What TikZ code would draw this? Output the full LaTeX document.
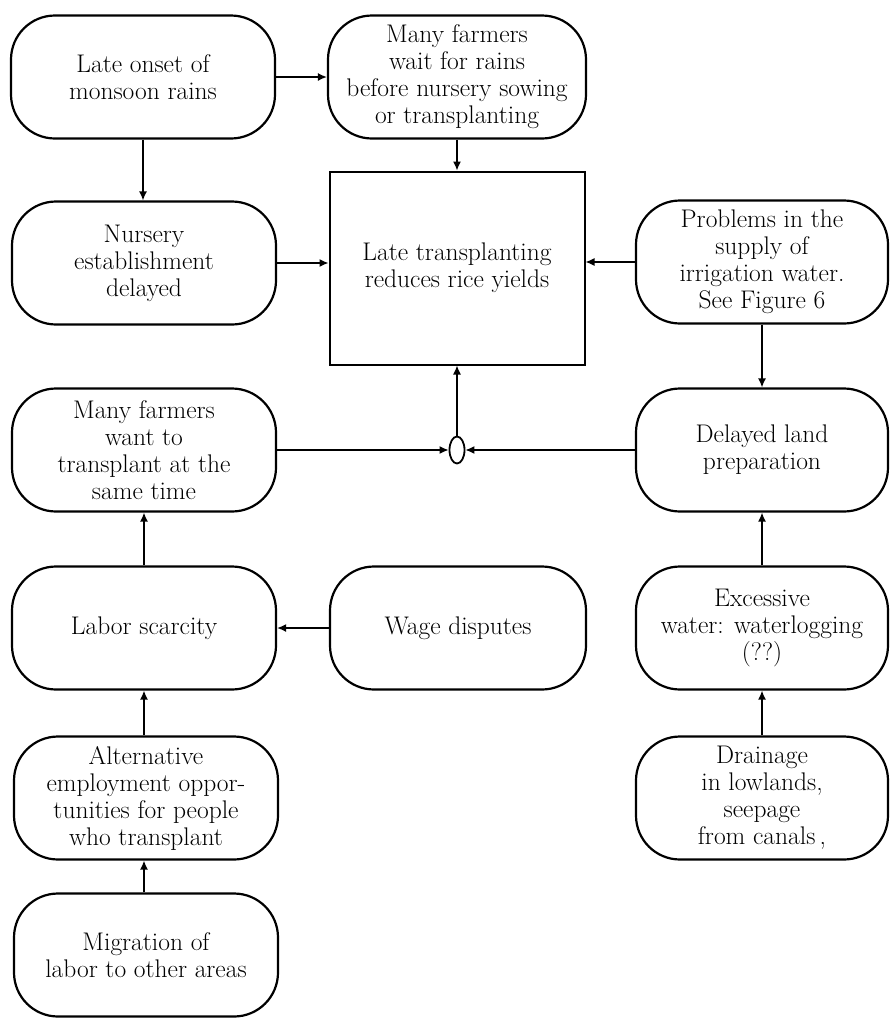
\documentclass[tikz,border=0pt]{standalone}
\usetikzlibrary{arrows.meta,shapes.geometric}
\begin{document}
\begin{tikzpicture}[x=1pt,y=-1pt,
  txt/.style={font=\fontsize{25.5}{27}\selectfont, align=center},
  box/.style={txt, draw, line width=2.2pt, rounded corners=44pt,
    minimum width=#1, minimum height=123pt, inner sep=0pt},
  box/.default=264pt,
  plain/.style={txt, draw, line width=2pt, minimum width=255pt,
    minimum height=193pt, inner sep=0pt},
  junction/.style={draw, ellipse, line width=1.8pt, minimum width=15pt,
    minimum height=27pt, inner sep=0pt},
  conn/.style={-{Latex[length=9pt,width=8pt]}, line width=1.4pt}
]
\useasboundingbox (0,0) rectangle (890,1018);

% left column
\node[box] (late)  at (143,77)  {Late onset of\\monsoon rains};
\node[box] (nurs)  at (144,263) {Nursery\\establishment\\delayed};
\node[box] (want)  at (144,450) {Many farmers\\want to\\transplant at the\\same time};
\node[box] (labor) at (144,628) {Labor scarcity};
\node[box] (alt)   at (146,798) {Alternative\\employment oppor-\\tunities for people\\who transplant};
\node[box] (mig)   at (146,955) {Migration of\\labor to other areas};

% middle column
\node[box=258pt] (wait) at (457,77) {Many farmers\\wait for rains\\before nursery sowing\\or transplanting};
\node[plain] (late tp) at (457,268) {Late transplanting\\reduces rice yields};
\node[junction] (zero) at (457,450) {};
\node[box=256pt] (wage) at (458,628) {Wage disputes};

% right column
\node[box=252pt] (prob)  at (762,262) {Problems in the\\supply of\\irrigation water.\\See Figure 6};
\node[box=252pt] (delay) at (762,450) {Delayed land\\preparation};
\node[box=252pt] (exc)   at (762,628) {Excessive\\water: waterlogging\\(??)};
\node[box=252pt] (drain) at (762,798) {Drainage\\in lowlands,\\seepage\\from canals\,,};

% connectors
\draw[conn] (late.east) -- (wait.west);
\draw[conn] (late.south) -- (nurs.north -| late.south);
\draw[conn] (wait.south) -- (late tp.north);
\draw[conn] (nurs.east) -- (nurs.east -| late tp.west);
\draw[conn] (prob.west) -- (prob.west -| late tp.east);
\draw[conn] (prob.south) -- (delay.north);
\draw[conn] (want.east) -- (zero.west);
\draw[conn] (delay.west) -- (zero.east);
\draw[conn] (zero.north) -- (late tp.south);
\draw[conn] (labor.north) -- (want.south);
\draw[conn] (wage.west) -- (labor.east);
\draw[conn] (alt.north -| labor.north) -- (labor.south);
\draw[conn] (mig.north -| labor.north) -- (alt.south -| labor.north);
\draw[conn] (exc.north) -- (delay.south);
\draw[conn] (drain.north) -- (exc.south);
\end{tikzpicture}
\end{document}
